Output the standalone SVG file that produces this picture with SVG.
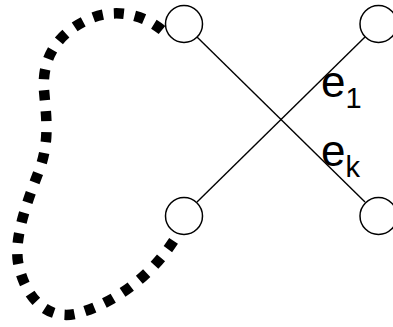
<svg xmlns="http://www.w3.org/2000/svg" width="393" height="327" viewBox="0 0 393 327">
<style>
.node{fill:#fff;stroke:#000;stroke-width:1.5}
.edge{stroke:#000;stroke-width:1.4;fill:none}
.dash{stroke:#000;stroke-width:10.5;fill:none;stroke-dasharray:10 11}
.lbl{font-family:"Liberation Sans",Arial,sans-serif;fill:#000}
</style>
<rect width="393" height="327" fill="#fff"/>
<g id="connectors">
<line class="edge" x1="197" y1="37" x2="365" y2="202"/>
<line class="edge" x1="365" y1="37" x2="197" y2="202"/>
<path class="dash" d="M 162,30 C 140,12 110,8 85,21 C 55,36 42,60 44,90 C 46,115 50,140 40,168 C 28,200 14,235 18,262 C 24,295 45,320 75,314 C 110,305 150,280 178,234"/>
</g>
<g id="n1"><circle class="node" cx="184" cy="24" r="18.5"/></g>
<g id="n2"><circle class="node" cx="378.5" cy="24" r="18.5"/></g>
<g id="n3"><circle class="node" cx="184" cy="216" r="18.5"/></g>
<g id="n4"><circle class="node" cx="378.5" cy="216" r="18.5"/></g>
<g id="label-e1"><text class="lbl" x="321" y="97" font-size="44">e<tspan font-size="29" y="108">1</tspan></text></g>
<g id="label-ek"><text class="lbl" x="321" y="166" font-size="44">e<tspan font-size="29" y="177">k</tspan></text></g>
</svg>
